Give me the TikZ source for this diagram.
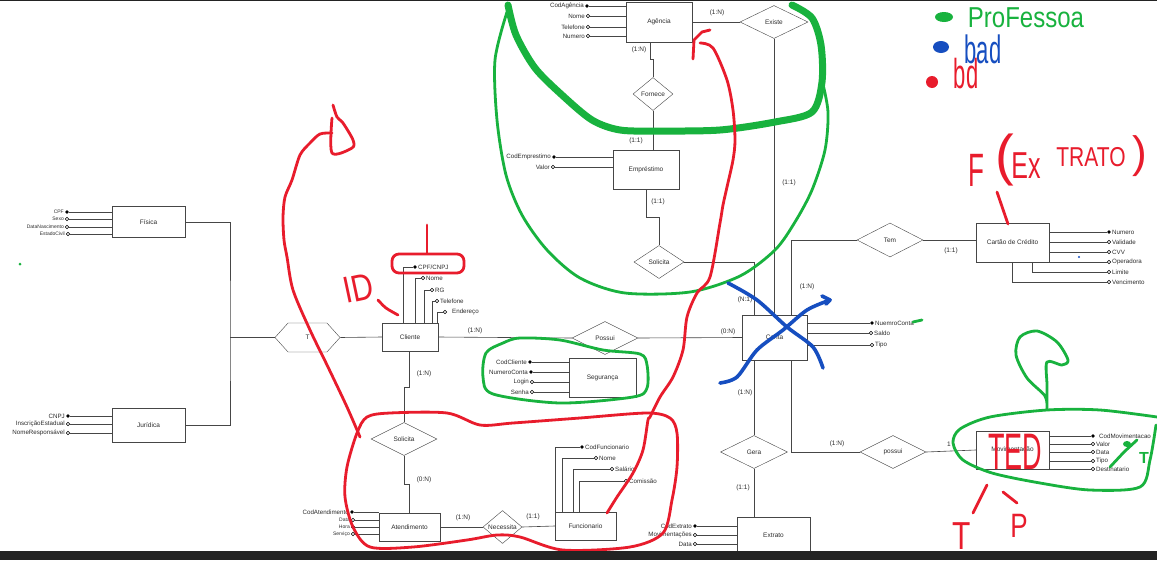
\documentclass[tikz,border=0pt]{standalone}
\usepackage{fontspec}
\setmainfont{Liberation Sans}
\usetikzlibrary{positioning, shapes.geometric, shapes.symbols}

\definecolor{lineGray}{RGB}{70,70,70}
\definecolor{textGray}{RGB}{45,45,45}
\definecolor{penGreen}{RGB}{24,178,62}
\definecolor{penRed}{RGB}{232,28,44}
\definecolor{penBlue}{RGB}{22,78,192}
\definecolor{barDark}{RGB}{35,35,35}

\tikzset{
  entity/.style={draw=lineGray, rectangle, inner sep=0, text=textGray, font=\fontsize{6.5}{7}\selectfont},
  relation/.style={draw=lineGray, diamond, aspect=2, inner sep=0, text=textGray, font=\fontsize{6.5}{7}\selectfont},
  keyattr/.style={circle, fill=black, inner sep=0, minimum size=3.6pt},
  attr/.style={circle, draw=black, fill=white, inner sep=0, minimum size=3.4pt, line width=0.6pt},
  attrtxt/.style={font=\fontsize{6.2}{7}\selectfont, text=textGray, inner sep=1pt},
  tinytxt/.style={font=\fontsize{5}{6}\selectfont, text=textGray, inner sep=1pt},
  card/.style={font=\fontsize{6.5}{7}\selectfont, text=textGray},
  link/.style={draw=lineGray, line width=0.6pt},
  greenpen/.style={draw=penGreen, line width=2.8pt, line cap=round, line join=round},
  redpen/.style={draw=penRed, line width=2.8pt, line cap=round, line join=round},
  bluepen/.style={draw=penBlue, line width=3.6pt, line cap=round, line join=round},
  handtxt/.style={font=\fontsize{24}{24}\selectfont, inner sep=0}
}

\begin{document}
\begin{tikzpicture}[x=1pt, y=-1pt]
  \useasboundingbox (0,0) rectangle (1157,560);
  \fill[white] (0,0) rectangle (1157,560);

  % entities
  \node[entity, minimum width=66pt, minimum height=40pt] (agencia) at (659,22) {Agência};
  \node[entity, minimum width=66pt, minimum height=39pt] (emprestimo) at (646,170) {Empréstimo};
  \node[entity, minimum width=73pt, minimum height=31pt] (fisica) at (148.5,222) {Física};
  \node[entity, minimum width=73pt, minimum height=34pt] (juridica) at (148.5,425) {Jurídica};
  \node[entity, minimum width=56pt, minimum height=28pt] (cliente) at (410,337) {Cliente};
  \node[entity, minimum width=67pt, minimum height=39pt] (seguranca) at (602.5,377.5) {Segurança};
  \node[entity, minimum width=65pt, minimum height=45pt] (conta) at (774.5,337.5) {Conta};
  \node[entity, minimum width=73pt, minimum height=39pt] (cartao) at (1012.5,242.5) {Cartão de Crédito};
  \node[entity, minimum width=61pt, minimum height=28pt] (atendimento) at (409.5,527) {Atendimento};
  \node[entity, minimum width=61pt, minimum height=28pt] (funcionario) at (585.5,526) {Funcionario};
  \node[entity, minimum width=73pt, minimum height=38pt] (movimentacao) at (1012.5,450) {Movimentação};
  \node[entity, minimum width=73pt, minimum height=36pt] (extrato) at (773.5,535) {Extrato};

  % relations
  \node[relation, minimum width=68pt, minimum height=33pt] (existe) at (774,22) {Existe};
  \node[relation, minimum width=40pt, minimum height=33pt] (fornece) at (653,94) {Fornece};
  \node[relation, minimum width=50pt, minimum height=33pt] (solicitaConta) at (659,262) {Solicita};
  \node[relation, minimum width=66pt, minimum height=34pt] (tem) at (890,240) {Tem};
  \node[relation, minimum width=66pt, minimum height=33pt] (possuiConta) at (605,338) {Possui};
  \node[relation, minimum width=67pt, minimum height=33pt] (gera) at (754,452) {Gera};
  \node[relation, minimum width=66pt, minimum height=33pt] (possuiMov) at (893,452) {possui};
  \node[relation, minimum width=66pt, minimum height=33pt] (solicitaAtend) at (404,439) {Solicita};
  \node[relation, minimum width=39pt, minimum height=33pt] (necessita) at (502.5,527) {Necessita};
  \node[draw=lineGray, signal, signal to=west and east, signal pointer angle=96, inner sep=0,
        minimum width=65pt, minimum height=29pt, text=textGray, font=\fontsize{6.5}{7}\selectfont] (tipoT) at (307.5,337.5) {T};
  \coordinate (heranca) at (230,337.5);

  % attributes
  \node[keyattr, label={[attrtxt]left:CodAgência}] (codAgencia) at (587,6) {};
  \node[attr, label={[attrtxt]left:Nome}] (nomeAgencia) at (588,16) {};
  \node[attr, label={[attrtxt]left:Telefone}] (telAgencia) at (588,27) {};
  \node[attr, label={[attrtxt]left:Numero}] (numAgencia) at (588,36) {};

  \node[keyattr, label={[attrtxt]left:CodEmprestimo}] (codEmprestimo) at (554,157) {};
  \node[attr, label={[attrtxt]left:Valor}] (valorEmprestimo) at (553,167) {};

  \node[keyattr, label={[tinytxt]left:CPF}] (cpfFisica) at (67,212) {};
  \node[attr, label={[tinytxt]left:Sexo}] (sexoFisica) at (67,219) {};
  \node[attr, label={[tinytxt]left:DataNascimento}] (nascFisica) at (67,227) {};
  \node[attr, label={[tinytxt]left:EstadoCivil}] (civilFisica) at (68,234) {};

  \node[keyattr, label={[attrtxt]left:CNPJ}] (cnpjJuridica) at (68,416) {};
  \node[attr, label={[attrtxt]left:InscriçãoEstadual}] (inscJuridica) at (68,424) {};
  \node[attr, label={[attrtxt]left:NomeResponsável}] (respJuridica) at (68,433) {};

  \node[keyattr, label={[attrtxt]right:CPF/CNPJ}] (cpfCliente) at (415,267) {};
  \node[attr, label={[attrtxt]right:Nome}] (nomeCliente) at (423,278) {};
  \node[attr, label={[attrtxt]right:RG}] (rgCliente) at (432,290) {};
  \node[attr, label={[attrtxt]right:Telefone}] (telCliente) at (437,301) {};
  \node[attr, label={[attrtxt, xshift=4pt]right:Endereço}] (endCliente) at (445,312) {};

  \node[keyattr, label={[attrtxt]left:CodCliente}] (codSeg) at (530,362) {};
  \node[keyattr, label={[attrtxt]left:NumeroConta}] (contaSeg) at (531,372) {};
  \node[attr, label={[attrtxt]left:Login}] (loginSeg) at (532,382) {};
  \node[attr, label={[attrtxt]left:Senha}] (senhaSeg) at (532,392) {};

  \node[keyattr, label={[attrtxt]right:NuemroConta}] (numConta) at (872,323) {};
  \node[attr, label={[attrtxt]right:Saldo}] (saldoConta) at (871,333) {};
  \node[attr, label={[attrtxt]right:Tipo}] (tipoConta) at (872,345) {};

  \node[keyattr, label={[attrtxt]right:Numero}] (numCartao) at (1109,232) {};
  \node[attr, label={[attrtxt]right:Validade}] (validCartao) at (1109,242) {};
  \node[attr, label={[attrtxt]right:CVV}] (cvvCartao) at (1109,252) {};
  \node[attr, label={[attrtxt]right:Operadora}] (operCartao) at (1109,262) {};
  \node[attr, label={[attrtxt]right:Limite}] (limiteCartao) at (1109,272) {};
  \node[attr, label={[attrtxt]right:Vencimento}] (vencCartao) at (1109,282) {};

  \node[keyattr, label={[attrtxt, xshift=3pt]right:CodMovimentacao}] (codMov) at (1093,436) {};
  \node[attr, label={[attrtxt]right:Valor}] (valorMov) at (1093,444) {};
  \node[attr, label={[attrtxt]right:Data}] (dataMov) at (1093,452) {};
  \node[attr, label={[attrtxt]right:Tipo}] (tipoMov) at (1093,461) {};
  \node[attr, label={[attrtxt]right:Destinatario}] (destMov) at (1093,469) {};

  \node[keyattr, label={[attrtxt]left:CodAtendimento}] (codAtend) at (352,512) {};
  \node[attr, label={[tinytxt]left:Data}] (dataAtend) at (353,520) {};
  \node[attr, label={[tinytxt]left:Hora}] (horaAtend) at (353,527) {};
  \node[attr, label={[tinytxt]left:Serviço}] (servAtend) at (353,534) {};

  \node[keyattr, label={[attrtxt]right:CodFuncionario}] (codFunc) at (582,447) {};
  \node[attr, label={[attrtxt]right:Nome}] (nomeFunc) at (596,458) {};
  \node[attr, label={[attrtxt]right:Salário}] (salFunc) at (612,469) {};
  \node[attr, label={[attrtxt]right:Comissão}] (comFunc) at (626,481) {};

  \node[keyattr, label={[attrtxt]left:CodExtrato}] (codExtrato) at (695,526) {};
  \node[attr, label={[attrtxt]left:Movimentações}] (movExtrato) at (695,535) {};
  \node[attr, label={[attrtxt]left:Data}] (dataExtrato) at (695,544) {};

  % attribute links
  \foreach \a in {codAgencia,nomeAgencia,telAgencia,numAgencia}
    \draw[link] (\a) -- (\a -| agencia.west);
  \foreach \a in {codEmprestimo,valorEmprestimo}
    \draw[link] (\a) -- (\a -| emprestimo.west);
  \foreach \a in {cpfFisica,sexoFisica,nascFisica,civilFisica}
    \draw[link] (\a) -- (\a -| fisica.west);
  \foreach \a in {cnpjJuridica,inscJuridica,respJuridica}
    \draw[link] (\a) -- (\a -| juridica.west);
  \foreach \a in {codSeg,contaSeg,loginSeg,senhaSeg}
    \draw[link] (\a) -- (\a -| seguranca.west);
  \foreach \a in {numConta,saldoConta,tipoConta}
    \draw[link] (\a) -- (\a -| conta.east);
  \foreach \a in {numCartao,validCartao,cvvCartao,operCartao}
    \draw[link] (\a) -- (\a -| cartao.east);
  \foreach \a in {codMov,valorMov,dataMov,tipoMov,destMov}
    \draw[link] (\a) -- (\a -| movimentacao.east);
  \foreach \a in {codAtend,dataAtend,horaAtend,servAtend}
    \draw[link] (\a) -- (\a -| atendimento.west);
  \foreach \a in {codExtrato,movExtrato,dataExtrato}
    \draw[link] (\a) -- (\a -| extrato.west);
  \draw[link] (cpfCliente) -| ([xshift=-7pt]cliente.north);
  \draw[link] (nomeCliente) -| ([xshift=5pt]cliente.north);
  \draw[link] (rgCliente) -| ([xshift=14pt]cliente.north);
  \draw[link] (telCliente) -| ([xshift=22pt]cliente.north);
  \draw[link] (endCliente) -| ([xshift=27pt]cliente.north);
  \draw[link] (limiteCartao) -| ([xshift=19.5pt]cartao.south);
  \draw[link] (vencCartao) -| (cartao.south);
  \draw[link] (codFunc) -| ([xshift=-30.5pt]funcionario.north);
  \draw[link] (nomeFunc) -| ([xshift=-23.5pt]funcionario.north);
  \draw[link] (salFunc) -| ([xshift=-12.5pt]funcionario.north);
  \draw[link] (comFunc) -| ([xshift=-6.5pt]funcionario.north);

  % relationship links
  \draw[link] (agencia.east) -- (existe.west);
  \draw[link] (existe.south) -- (existe.south |- conta.north);
  \draw[link] ([xshift=-9pt]agencia.south) -- ++(0,17) -| (fornece.north);
  \draw[link] (fornece.south) -- (fornece.south |- emprestimo.north);
  \draw[link] (emprestimo.south) -- ++(0,27.5) -| (solicitaConta.north);
  \draw[link] (solicitaConta.east) -| ([xshift=-20.5pt]conta.north);
  \draw[link] (tem.west) -| ([xshift=16.5pt]conta.north);
  \draw[link] (tem.east) -- (tem.east -| cartao.west);
  \draw[link] (cliente.east) -- (possuiConta.west);
  \draw[link] (possuiConta.east) -- (conta.west);
  \draw[link] ([xshift=-20.5pt]conta.south) -- (gera.north);
  \draw[link] (gera.south) -- (gera.south |- extrato.north);
  \draw[link] ([xshift=16.5pt]conta.south) |- (possuiMov.west);
  \draw[link] (possuiMov.east) -- (movimentacao.west);
  \draw[link] (fisica.east) -| (heranca) |- (juridica.east);
  \draw[link] (tipoT.west) -- (heranca);
  \draw[link] (tipoT.east) -- (cliente.west);
  \draw[link] ([xshift=-1pt]cliente.south) -- ++(0,36) -| (solicitaAtend.north);
  \draw[link] (solicitaAtend.south) -- ++(0,28.5) -| (atendimento.north);
  \draw[link] (atendimento.east) -- (necessita.west);
  \draw[link] (necessita.east) -- (funcionario.west);

  % cardinalities
  \node[card] at (717,13) {(1:N)};
  \node[card] at (789,183) {(1:1)};
  \node[card] at (639,50) {(1:N)};
  \node[card] at (636,141) {(1:1)};
  \node[card] at (658,202) {(1:1)};
  \node[card] at (745,300) {(N:1)};
  \node[card] at (807,287) {(1:N)};
  \node[card] at (951,251) {(1:1)};
  \node[card] at (475,331) {(1:N)};
  \node[card] at (728,332) {(0:N)};
  \node[card] at (745,393) {(1:N)};
  \node[card] at (743,488) {(1:1)};
  \node[card] at (837,444) {(1:N)};
  \node[card] at (949,444) {1};
  \node[card] at (424,374) {(1:N)};
  \node[card] at (424,480) {(0:N)};
  \node[card] at (463,518) {(1:N)};
  \node[card] at (533,517) {(1:1)};

  % green marks
  \draw[greenpen, line width=7pt] plot[smooth] coordinates {(508,5) (516,35) (535,68) (562,95) (592,120) (620,130) (660,131) (720,130) (775,122) (812,112) (822,82) (821,45) (812,18) (792,5)};
  \draw[greenpen] plot[smooth] coordinates {(507,12) (495,60) (497,120) (506,175) (522,215) (547,250) (580,278) (625,293) (690,292) (740,276) (775,250) (795,222) (812,190) (825,150) (828,112) (822,80)};
  \draw[greenpen] plot[smooth cycle] coordinates {(520,338) (560,340) (603,350) (640,354) (647,365) (647,388) (633,397) (560,403) (493,394) (483,377) (486,353) (503,343)};
  \draw[greenpen] (913,322) -- (922,320);
  \draw[greenpen] plot[smooth] coordinates {(1047,409) (1045,396) (1027,378) (1016,355) (1020,337) (1037,331) (1057,342) (1068,360) (1062,365) (1047,362) (1047,385) (1047,409)};
  \draw[greenpen] plot[smooth] coordinates {(1157,417) (1100,410) (1047,410) (990,417) (960,429) (953,443) (963,460) (992,473) (1040,483) (1090,490) (1140,487) (1150,460) (1156,425)};
  \fill[penGreen] (1127,444) ellipse (4pt and 3pt);
  \draw[greenpen] (1110,467) -- (1124,452) -- (1137,440);
  \node[handtxt, text=penGreen, font=\bfseries\fontsize{16}{16}\selectfont] (greenT) at (1144,458) {T};
  \fill[penGreen] (20,264) circle (1.5pt);
  \fill[penGreen] (944,17) ellipse (9pt and 5pt);
  \node[handtxt, text=penGreen, yscale=1.2] (legendProf) at (1026,18) {ProFessoa};

  % blue marks
  \draw[bluepen] plot[smooth] coordinates {(728,283) (757,300) (787,327) (813,347) (823,368)};
  \draw[bluepen] plot[smooth] coordinates {(720,383) (737,377) (757,350) (783,330) (807,310) (830,300)};
  \draw[bluepen] (822,296) -- (830,300) -- (826,304);
  \fill[penBlue] (1079,257) circle (1.2pt);
  \fill[penBlue] (941,47) ellipse (8pt and 6pt);
  \node[handtxt, text=penBlue, yscale=1.8, font=\fontsize{22}{22}\selectfont] (legendBad) at (983,49) {bad};

  % red marks
  \draw[redpen] plot[smooth] coordinates {(333,105) (337,117) (343,123) (353,140) (352,148) (332,153) (332,118)};
  \draw[redpen] plot[smooth] coordinates {(332,133) (320,134) (310,143) (300,155) (292,180) (285,197) (283,217) (284,240) (287,257) (293,290) (310,330) (328,367) (347,407) (360,437)};
  \draw[redpen] plot[smooth cycle] coordinates {(367,417) (390,413) (447,413) (480,425) (513,423) (580,418) (647,413) (670,418) (677,433) (677,467) (672,500) (663,533) (630,547) (563,550) (520,537) (497,535) (467,540) (413,547) (370,547) (353,527) (345,497) (347,467) (357,433)};
  \draw[redpen] (693,59) -- (694,40) -- (702,32) -- (710,30);
  \draw[redpen] plot[smooth] coordinates {(700,43) (713,48) (727,80) (733,110) (735,140) (733,160) (727,187) (723,205) (720,223) (710,277) (697,293) (687,317) (683,350) (673,377) (660,397) (650,417) (648,420) (643,450) (633,473) (617,497) (607,513)};
  \draw[redpen, rounded corners=7pt] (392,254) rectangle (464,273);
  \draw[redpen] (427,225) -- (427,253);
  \node[handtxt, text=penRed, rotate=12, yscale=1.25, font=\fontsize{30}{30}\selectfont] (legendId) at (358,288) {ID};
  \draw[redpen] plot[smooth] coordinates {(378,300) (386,308) (398,315)};
  \node[handtxt, text=penRed, yscale=1.9, font=\fontsize{27}{27}\selectfont] (tedMark) at (1015,452) {TED};
  \node[handtxt, text=penRed, yscale=1.8, font=\fontsize{26}{26}\selectfont] (fMark) at (976,170) {F};
  \node[handtxt, text=penRed, font=\fontsize{56}{56}\selectfont] (parOpen) at (1005,160) {(};
  \node[handtxt, text=penRed, yscale=1.5, font=\fontsize{25}{25}\selectfont] (exMark) at (1026,166) {Ex};
  \node[handtxt, text=penRed, yscale=1.3, font=\fontsize{21}{21}\selectfont] (tratoMark) at (1091,157) {TRATO};
  \node[handtxt, text=penRed, font=\fontsize{44}{44}\selectfont] (parClose) at (1140,156) {)};
  \draw[redpen] (997,192) -- (1008,224);
  \node[handtxt, text=penRed, yscale=1.3, font=\fontsize{30}{30}\selectfont] (tMark) at (962,536) {T};
  \node[handtxt, text=penRed, yscale=1.3, font=\fontsize{26}{26}\selectfont] (pMark) at (1019,526) {P};
  \draw[redpen] (987,485) -- (973,513);
  \draw[redpen] (1003,492) -- (1017,503);
  \fill[penRed] (932,82) ellipse (6pt and 6pt);
  \node[handtxt, text=penRed, yscale=1.9, font=\fontsize{22}{22}\selectfont] (legendBd) at (966,74) {bd};

  % window frame
  \fill[barDark] (0,551) rectangle (1157,560);
  \draw[barDark, line width=1.5pt] (0,0.5) -- (1157,0.5);
\end{tikzpicture}
\end{document}
